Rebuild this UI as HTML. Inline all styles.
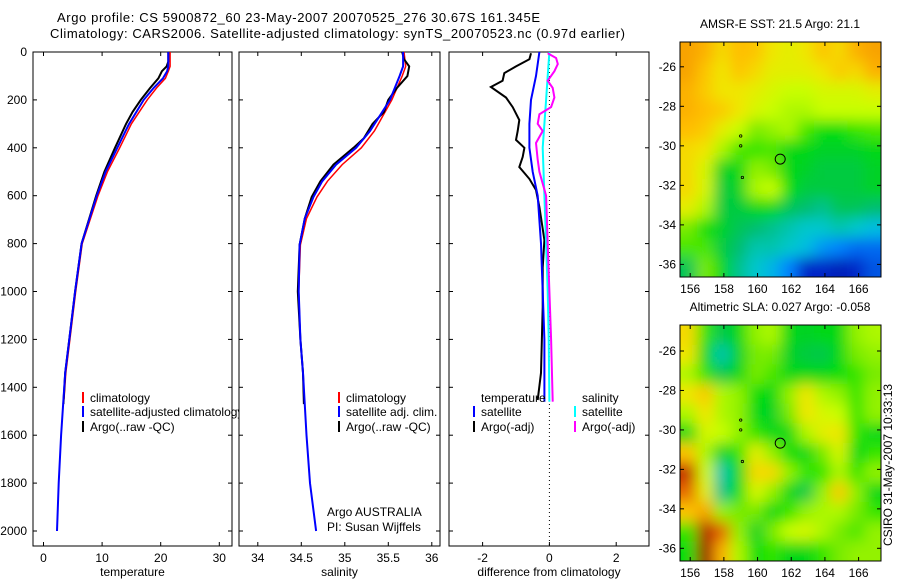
<!DOCTYPE html>
<html><head><meta charset="utf-8"><style>
body{margin:0;background:#fff}
svg text{font-family:"Liberation Sans",sans-serif;font-size:12px;fill:#000}
</style></head><body>
<svg id="s" width="900" height="580" viewBox="0 0 900 580" xmlns="http://www.w3.org/2000/svg">
<defs>
<filter id="bl" x="-5%" y="-5%" width="110%" height="110%"><feGaussianBlur stdDeviation="7"/></filter>
<clipPath id="c1"><rect x="680" y="42" width="201" height="235"/></clipPath>
<clipPath id="c2"><rect x="680" y="325" width="201" height="236"/></clipPath>
</defs>
<text x="57" y="22" textLength="483" style="font-size:13px">Argo profile: CS 5900872_60 23-May-2007 20070525_276 30.67S 161.345E</text>
<text x="50" y="38" textLength="575" style="font-size:13px">Climatology: CARS2006. Satellite-adjusted climatology: synTS_20070523.nc (0.97d earlier)</text>
<g id="g"></g>
<text x="892" y="465" text-anchor="middle" transform="rotate(-90 892 465)">CSIRO 31-May-2007 10:33:13</text>
</svg>
<script>
// ---- data ----
const depthTicks=[0,200,400,600,800,1000,1200,1400,1600,1800,2000];
const tempTicks=[0,10,20,30];
const salTicks=[34,34.5,35,35.5,36];
const salTickLabels=["34","34.5","35","35.5","36"];
const diffTicks=[-2,0,2];
const climTempDepth=[0,60,80,110,150,200,300,400,500,600,800,1000,1200,1340,1450];
const climTemp=[21.6,21.6,21.3,20.8,19.3,17.7,15.0,13.0,10.9,9.3,6.6,5.5,4.5,3.8,3.5];
const satTempDepth=[0,60,80,110,150,200,300,400,500,600,800,1000,1200,1340,1600,1800,2000];
const satTemp=[21.3,21.3,21.1,20.4,18.8,17.1,14.6,12.6,10.6,9.1,6.5,5.4,4.4,3.7,3.0,2.6,2.3];
const argoTempDepth=[0,40,60,80,110,150,200,250,300,400,500,600,800,1000,1200,1340,1470];
const argoTemp=[21.3,21.3,21.0,20.2,19.6,18.2,16.6,15.2,14.1,12.2,10.4,9.0,6.5,5.4,4.4,3.7,3.4];
const climSalDepth=[0,60,100,200,330,400,470,540,605,695,805,1000,1200,1340,1450];
const climSal=[35.68,35.7,35.66,35.54,35.34,35.19,34.97,34.8,34.68,34.56,34.49,34.47,34.49,34.52,34.53];
const satSalDepth=[0,60,100,200,330,400,470,540,605,695,805,1000,1200,1340,1600,1800,2000];
const satSal=[35.67,35.67,35.63,35.52,35.29,35.13,34.9,34.74,34.64,34.54,34.48,34.47,34.49,34.52,34.56,34.6,34.67];
const argoSalDepth=[0,30,60,100,150,200,250,300,360,400,470,540,605,695,805,1000,1200,1340,1470];
const argoSal=[35.66,35.68,35.74,35.72,35.6,35.5,35.45,35.32,35.22,35.1,34.87,34.72,34.62,34.54,34.48,34.46,34.49,34.52,34.53];
const dSatTDepth=[0,50,100,200,300,400,500,600,800,1000,1200,1400,1460];
const dSatT=[-0.3,-0.35,-0.4,-0.55,-0.6,-0.6,-0.5,-0.35,-0.25,-0.2,-0.15,-0.15,-0.15];
const dArgoTDepth=[5,30,60,88,120,146,190,230,284,330,367,400,438,480,530,576,647,785,900,1065,1340,1453];
const dArgoT=[-0.55,-0.6,-1.0,-1.35,-1.4,-1.75,-1.3,-1.1,-0.9,-0.95,-1.0,-0.75,-0.8,-0.9,-0.6,-0.4,-0.3,-0.15,-0.2,-0.2,-0.25,-0.35];
const dSatSDepth=[0,100,200,300,400,600,800,1000,1200,1460];
const dSatS=[0.0,-0.05,-0.1,-0.15,-0.2,-0.15,-0.1,-0.05,-0.02,0.0];
const dArgoSDepth=[5,25,50,80,120,150,190,230,260,300,330,380,450,500,600,800,1000,1200,1460];
const dArgoS=[-0.05,0.2,0.25,0.15,-0.05,0.1,0.15,0.05,-0.3,-0.35,-0.2,-0.4,-0.35,-0.3,-0.1,-0.05,0.0,0.05,0.1];
const lonTicks=[156,158,160,162,164,166];
const latTicks=[-26,-28,-30,-32,-34,-36];
const sstGrid=[
[0.8,0.78,0.72,0.76,0.75,0.7,0.68,0.7,0.75,0.72,0.78,0.8],
[0.8,0.75,0.7,0.75,0.72,0.68,0.68,0.68,0.7,0.74,0.72,0.78],
[0.78,0.74,0.7,0.7,0.68,0.66,0.64,0.64,0.66,0.66,0.66,0.68],
[0.78,0.76,0.74,0.7,0.66,0.64,0.62,0.62,0.64,0.64,0.64,0.64],
[0.76,0.74,0.68,0.64,0.58,0.6,0.62,0.56,0.52,0.52,0.55,0.56],
[0.72,0.7,0.62,0.56,0.55,0.56,0.5,0.5,0.48,0.48,0.48,0.5],
[0.72,0.66,0.48,0.5,0.6,0.58,0.5,0.48,0.46,0.46,0.46,0.48],
[0.72,0.66,0.46,0.48,0.62,0.64,0.52,0.46,0.46,0.46,0.46,0.48],
[0.68,0.62,0.46,0.46,0.5,0.5,0.44,0.42,0.4,0.44,0.44,0.42],
[0.58,0.52,0.48,0.44,0.42,0.4,0.38,0.36,0.36,0.38,0.36,0.34],
[0.56,0.56,0.46,0.42,0.38,0.38,0.36,0.34,0.3,0.28,0.26,0.26],
[0.44,0.58,0.5,0.4,0.36,0.33,0.28,0.2,0.2,0.18,0.2,0.24]];
const slaGrid=[
[0.72,0.55,0.45,0.5,0.6,0.62,0.5,0.48,0.5,0.5,0.6,0.62],
[0.7,0.5,0.38,0.48,0.58,0.58,0.48,0.46,0.45,0.5,0.58,0.6],
[0.62,0.55,0.45,0.5,0.58,0.56,0.5,0.5,0.5,0.52,0.55,0.58],
[0.7,0.74,0.62,0.6,0.52,0.5,0.6,0.7,0.62,0.6,0.55,0.6],
[0.62,0.7,0.62,0.6,0.5,0.48,0.58,0.7,0.66,0.64,0.55,0.6],
[0.5,0.66,0.64,0.6,0.55,0.5,0.5,0.62,0.68,0.7,0.55,0.5],
[0.75,0.62,0.48,0.55,0.68,0.6,0.52,0.5,0.58,0.66,0.5,0.55],
[0.9,0.65,0.38,0.5,0.72,0.72,0.6,0.55,0.55,0.62,0.55,0.6],
[0.85,0.68,0.4,0.52,0.66,0.6,0.5,0.45,0.6,0.74,0.6,0.5],
[0.75,0.8,0.6,0.58,0.58,0.5,0.55,0.6,0.62,0.62,0.58,0.55],
[0.55,0.92,0.85,0.6,0.48,0.58,0.64,0.66,0.62,0.58,0.56,0.6],
[0.52,0.95,0.78,0.62,0.52,0.55,0.5,0.5,0.55,0.58,0.6,0.6]];
const floatLon=161.345, floatLat=-30.67;
const islandLon=[159.0,159.0,159.1];
const islandLat=[-29.5,-30.0,-31.6];

const NS="http://www.w3.org/2000/svg", G=document.getElementById('g');
function el(t,a,p){const e=document.createElementNS(NS,t);for(const k in a)e.setAttribute(k,a[k]);(p||G).appendChild(e);return e;}
const Y0=52,PY=0.2395,BOT=546;
const yD=d=>Y0+d*PY;
function ln(x,y,w,h){return el('line',{x1:x,y1:y,x2:x+w,y2:y+h,stroke:'#000','stroke-width':1});}
function panel(name,x0,x1,xf,xt,xlabs,xtitle,leftLabels){
  const r=el('rect',{x:x0,y:Y0,width:x1-x0,height:BOT-Y0,fill:'#fff',stroke:'#000','stroke-width':1});
  
  
  depthTicks.forEach(d=>{const y=yD(d);ln(x0,y,4,0);ln(x1,y,-4,0);
    if(leftLabels){const t=el('text',{x:x0-6,y:y+4,'text-anchor':'end'});t.textContent=d;
      
      }});
  xt.forEach((v,i)=>{const x=xf(v);ln(x,Y0,0,4);ln(x,BOT,0,-4);
    const t=el('text',{x:x,y:BOT+16,'text-anchor':'middle'});t.textContent=xlabs[i];
    
    });
  const tt=el('text',{x:(x0+x1)/2,y:576,'text-anchor':'middle'});tt.textContent=xtitle;
  
  
}
function series(name,xf,ds,vs,col,w){
  const pts=ds.map((d,i)=>xf(vs[i]).toFixed(1)+','+yD(d).toFixed(1)).join(' ');
  const p=el('polyline',{points:pts,fill:'none',stroke:col,'stroke-width':w||2});
  
  
}
function legend(name,x,y,col,label){
  if(col){const m=el('rect',{x:x,y:y-10,width:2,height:11,fill:col});
    
    }
  const t=el('text',{x:x+8,y:y});t.textContent=label;
  
  
}
// panel 1 temperature
const xT=v=>43.5+v*5.86;
panel('temperature-panel',33,232,xT,tempTicks,tempTicks,'temperature',true);
series('temp-climatology-line',xT,climTempDepth,climTemp,'#f00',1.5);
series('temp-argo-line',xT,argoTempDepth,argoTemp,'#000');
series('temp-satellite-line',xT,satTempDepth,satTemp,'#00f');
legend('legend-climatology',82,402,'#f00','climatology');
legend('legend-satellite-adjusted',82,416,'#00f','satellite-adjusted climatology');
legend('legend-argo-raw',82,431,'#000','Argo(..raw -QC)');
// panel 2 salinity
const xS=v=>257.8+(v-34)*87;
panel('salinity-panel',239,440,xS,salTicks,salTickLabels,'salinity',false);
series('sal-climatology-line',xS,climSalDepth,climSal,'#f00',1.5);
series('sal-argo-line',xS,argoSalDepth,argoSal,'#000');
series('sal-satellite-line',xS,satSalDepth,satSal,'#00f');
legend('legend-sal-climatology',338,402,'#f00','climatology');
legend('legend-sal-satellite',338,416,'#00f','satellite adj. clim.');
legend('legend-sal-argo',338,431,'#000','Argo(..raw -QC)');
legend('argo-australia-label',319,516,null,'Argo AUSTRALIA');
legend('pi-label',319,531,null,'PI: Susan Wijffels');
// panel 3 difference
const xDf=v=>549.4+v*33.4;
panel('difference-panel',449,649,xDf,diffTicks,diffTicks,'difference from climatology',false);
const z=el('line',{x1:xDf(0),y1:Y0,x2:xDf(0),y2:BOT,stroke:'#000','stroke-width':1,'stroke-dasharray':'1,3'});


series('diff-temp-argo-line',xDf,dArgoTDepth,dArgoT,'#000');
series('diff-temp-satellite-line',xDf,dSatTDepth,dSatT,'#00f');
series('diff-sal-satellite-line',xDf,dSatSDepth,dSatS,'#0ff');
series('diff-sal-argo-line',xDf,dArgoSDepth,dArgoS,'#f0f');
legend('legend-diff-temperature',473,402,null,'temperature');
legend('legend-diff-temp-satellite',473,416,'#00f','satellite');
legend('legend-diff-temp-argo',473,431,'#000','Argo(-adj)');
legend('legend-diff-salinity',574,402,null,'salinity');
legend('legend-diff-sal-satellite',574,416,'#0ff','satellite');
legend('legend-diff-sal-argo',574,431,'#f0f','Argo(-adj)');
// maps
const stops=[[0.15,[0,20,160]],[0.2,[0,40,200]],[0.28,[0,130,255]],[0.35,[0,200,220]],[0.42,[0,190,110]],[0.48,[0,210,40]],[0.53,[0,225,0]],[0.58,[120,235,0]],[0.64,[200,255,0]],[0.7,[240,230,0]],[0.76,[255,190,0]],[0.82,[245,150,0]],[0.88,[215,60,0]],[0.95,[150,0,0]]];
function cmap(v){
  if(v<=stops[0][0])return 'rgb('+stops[0][1]+')';
  for(let i=1;i<stops.length;i++){if(v<=stops[i][0]){const a=stops[i-1],b=stops[i],t=(v-a[0])/(b[0]-a[0]);
    return 'rgb('+a[1].map((c,k)=>Math.round(c+(b[1][k]-c)*t)).join(',')+')';}}
  return 'rgb('+stops[stops.length-1][1]+')';}
function map(name,top,bot,lat26,lat36,grid,title,clip){
  const xL=v=>690.2+(v-156)*16.84;
  const yL=v=>lat26+(v+26)*(lat36-lat26)/(-10);
  const g=el('g',{'clip-path':'url(#'+clip+')'});
  
  
  const gi=el('g',{filter:'url(#bl)'},g);
  const cw=201/12,ch=(bot-top)/12;
  grid.forEach((row,r)=>row.forEach((v,c)=>{
    let x=680+c*cw,y=top+r*ch,w=cw+1,h=ch+1;
    if(c==0){x-=20;w+=20;} if(c==11)w+=20; if(r==0){y-=20;h+=20;} if(r==11)h+=20;
    el('rect',{x:x,y:y,width:w,height:h,fill:cmap(v)},gi);}));
  islandLon.forEach((lo,i)=>{
    const d=el('circle',{cx:xL(lo),cy:yL(islandLat[i]),r:1.2,fill:'none',stroke:'#000','stroke-width':0.8});
    
    });
  const fr=el('rect',{x:680,y:top,width:201,height:bot-top,fill:'none',stroke:'#000','stroke-width':1});
  
  
  lonTicks.forEach(v=>{const x=xL(v);ln(x,top,0,4);ln(x,bot,0,-4);
    const t=el('text',{x:x,y:bot+16,'text-anchor':'middle'});t.textContent=v;
    
    });
  latTicks.forEach(v=>{const y=yL(v);ln(680,y,4,0);ln(881,y,-4,0);
    const t=el('text',{x:676,y:y+4,'text-anchor':'end'});t.textContent=v;
    
    });
  const c=el('circle',{cx:xL(floatLon),cy:yL(floatLat),r:5,fill:'none',stroke:'#000','stroke-width':1});
  
  
  const tt=el('text',{x:780,y:top-14,'text-anchor':'middle'});tt.textContent=title;
  
  
}
map('sst-map',42,277,66.8,264.4,sstGrid,'AMSR-E SST: 21.5 Argo: 21.1','c1');
map('sla-map',325,561,351,548.3,slaGrid,'Altimetric SLA: 0.027 Argo: -0.058','c2');
</script>
</body></html>
